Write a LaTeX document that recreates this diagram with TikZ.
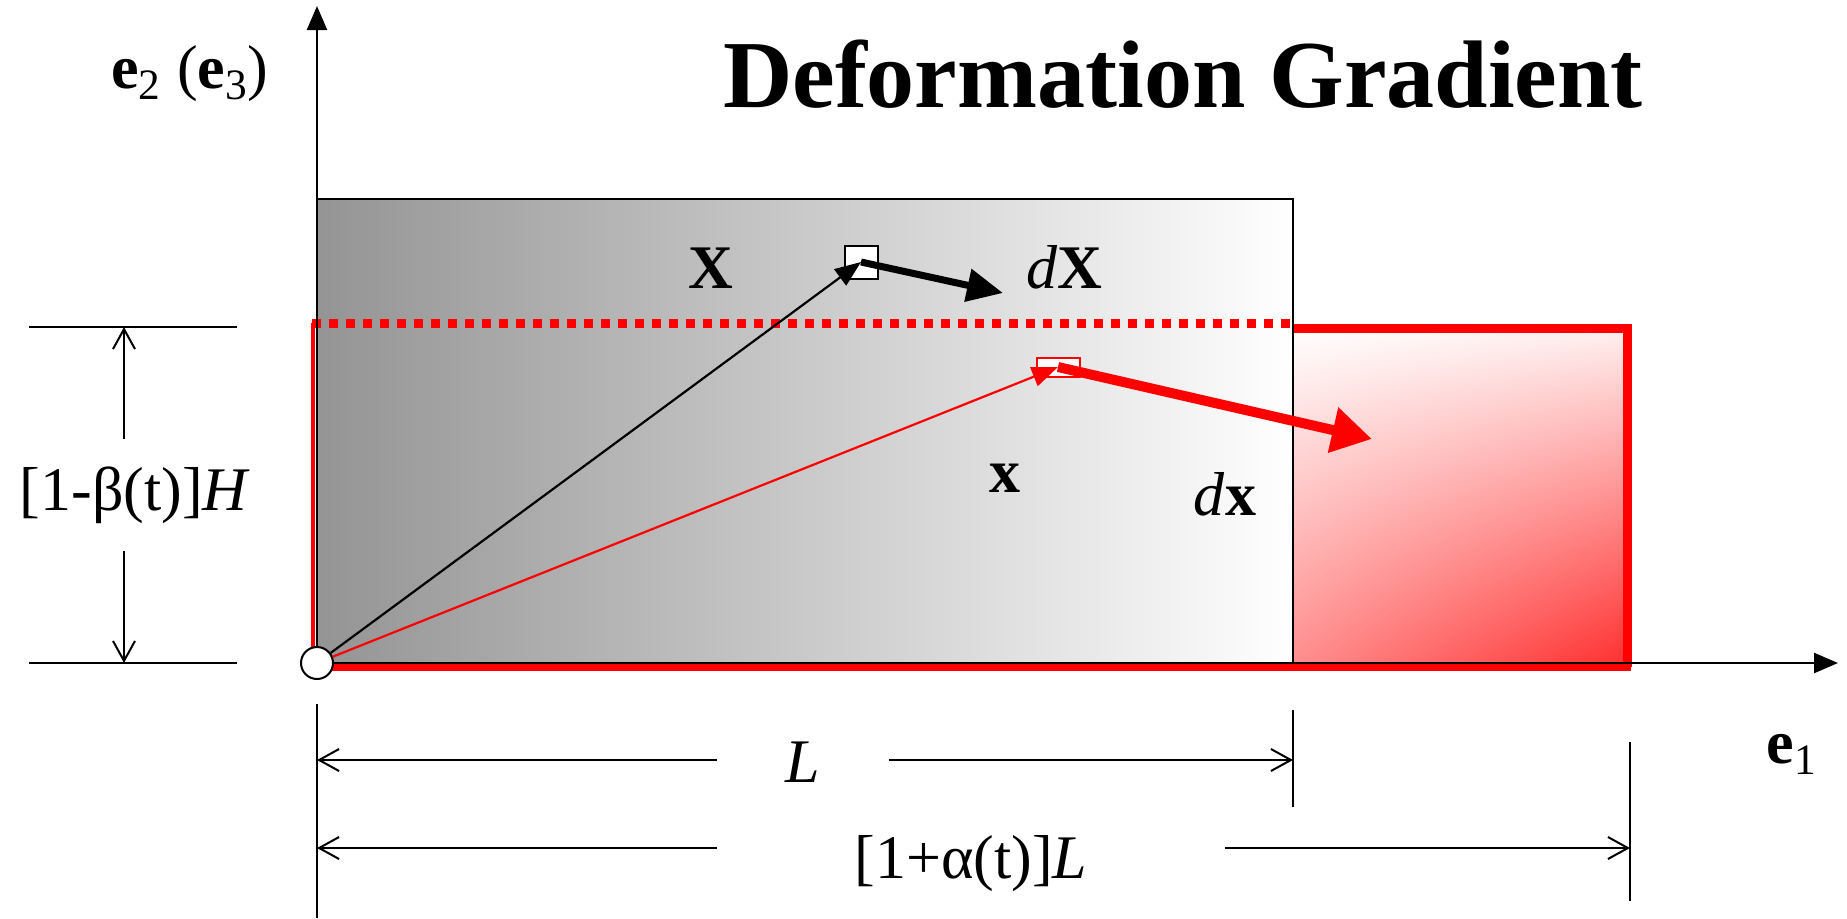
\documentclass[tikz,border=0pt]{standalone}
\usepackage{fontspec}
\setmainfont{Liberation Serif}
\usetikzlibrary{arrows.meta,shadings}

\begin{document}
\begin{tikzpicture}[
  x=0.5pt,y=-0.5pt,
  lbl/.style={inner sep=0pt,anchor=base,font=\fontsize{31}{31}\selectfont},
  axis/.style={line width=1.2pt,-{Triangle[length=12pt,width=10pt]}},
  dim/.style={line width=1pt,-{Straight Barb[length=10pt,width=11pt]}},
  ext/.style={line width=1pt},
  vec/.style={line width=1.1pt,-{Triangle[length=13pt,width=10pt]}},
  dvec/.style={line width=3.5pt,-{Triangle[length=18pt,width=16pt]}},
  rvec/.style={red,line width=5pt,-{Triangle[length=20pt,width=22pt]}},
  sqbox/.style={draw,fill=white,line width=1pt,minimum size=16.5pt,inner sep=0pt},
  sqred/.style={draw=red,fill=white,line width=1pt,minimum width=21.5pt,minimum height=9.5pt,inner sep=0pt},
  origin/.style={circle,draw,fill=white,line width=1pt,minimum size=16pt,inner sep=0pt}
]
\useasboundingbox (0,0) rectangle (1847,918);
\shade[left color=black!42,right color=white] (317,199) rectangle (1293,663);
\shade[upper left=white,upper right=red!6,lower left=red!45,lower right=red!82] (1293,328) rectangle (1627,667);
\draw[red,line width=4.5pt,dash pattern=on 4.5pt off 4pt] (312,323) -- (1293,323);
\draw[red,line width=4.5pt] (1293,328) -- (1627,328) -- (1627,667);
\draw[red,line width=3.5pt] (312,667) -- (1631,667);
\draw[red,line width=2pt] (313,323) -- (313,667);
\draw[line width=1pt] (317,199) rectangle (1293,663);

\node[origin] (O) at (317,663) {};
\coordinate (e2tip) at (317,6);
\coordinate (e1tip) at (1838,663);
\draw[axis] (O) -- (e2tip);
\draw[axis] (O) -- (e1tip);

\node[lbl,font=\fontsize{48}{48}\selectfont\bfseries] (title) at (1183,107) {Deformation Gradient};
\node[lbl] (e2) at (190,88) {\textbf{e}\textsubscript{2} (\textbf{e}\textsubscript{3})};
\node[lbl] (e1) at (1792,763) {\textbf{e}\textsubscript{1}};

\node[sqbox] (sqX) at (861,262) {};
\node[sqred] (sqx) at (1058,367) {};
\coordinate (tipX) at (1003,293);
\coordinate (tipx) at (1372,439);
\draw[vec] (O) -- (sqX.center);
\draw[dvec] (sqX.center) -- (tipX);
\draw[vec,red] (O) -- (sqx.center);
\draw[rvec] (sqx.center) -- (tipx);

\node[lbl] (lX) at (711,288) {\textbf{X}};
\node[lbl] (ldX) at (1064,288) {\textit{d}\textbf{X}};
\node[lbl] (lx) at (1005,492) {\textbf{x}};
\node[lbl] (ldx) at (1225,515) {\textit{d}\textbf{x}};

\draw[ext] (29,327) -- (237,327);
\draw[ext] (29,663) -- (237,663);
\coordinate (dHt) at (124,327);
\coordinate (dHb) at (124,663);
\node[lbl,minimum height=55.5pt] (lblH) at (135,510) {[1-β(t)]\textit{H}};
\draw[dim] (lblH.north -| dHt) -- (dHt);
\draw[dim] (lblH.south -| dHb) -- (dHb);

\draw[ext] (317,704) -- (317,918);
\draw[ext] (1293,710) -- (1293,807);
\draw[ext] (1630,742) -- (1630,901);
\coordinate (dLa) at (317,760);
\coordinate (dLb) at (1293,760);
\coordinate (dAa) at (317,848);
\coordinate (dAb) at (1630,848);
\node[lbl,minimum width=85.5pt] (lblL) at (803,782) {\textit{L}};
\node[lbl,minimum width=253.5pt] (lblA) at (971,878) {[1+α(t)]\textit{L}};
\draw[dim] (lblL.west |- dLa) -- (dLa);
\draw[dim] (lblL.east |- dLb) -- (dLb);
\draw[dim] (lblA.west |- dAa) -- (dAa);
\draw[dim] (lblA.east |- dAb) -- (dAb);
\end{tikzpicture}
\end{document}
